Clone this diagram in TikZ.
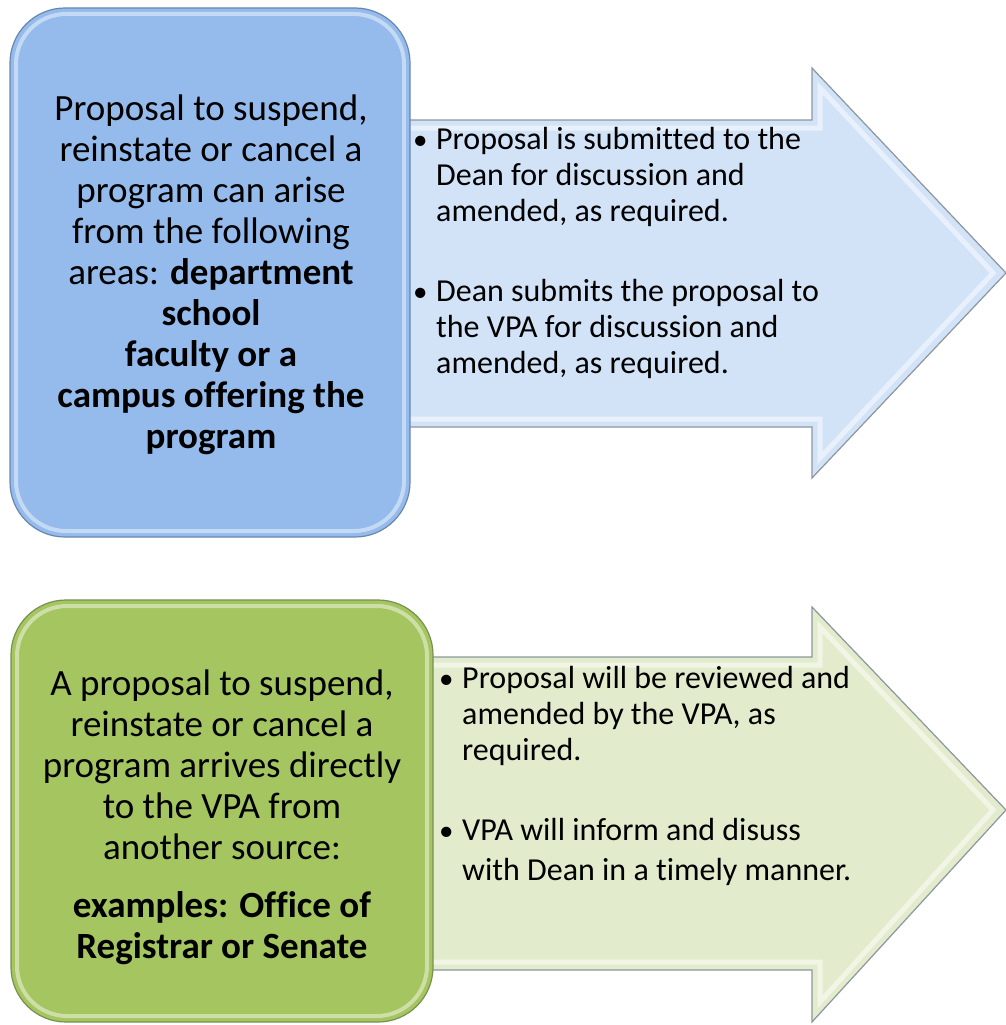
\documentclass[tikz,border=0pt]{standalone}
\usepackage{fontspec}
\setmainfont{Carlito}[Ligatures=NoCommon]
\definecolor{boxblue}{RGB}{148,187,236}
\definecolor{boxblueedge}{RGB}{105,135,175}
\definecolor{arrblue}{RGB}{210,227,247}
\definecolor{boxgreen}{RGB}{164,197,96}
\definecolor{boxgreenedge}{RGB}{120,145,80}
\definecolor{arrgreen}{RGB}{226,236,204}
\definecolor{arredge}{RGB}{140,150,160}
\newcommand{\smallbul}{\hspace*{-3pt}{\fontsize{29}{36}\selectfont\textbullet}}
\tikzset{
  leftbox/.style={rounded corners=55pt, line width=1.2pt},
  bevel/.style={rounded corners=50pt, draw=white, draw opacity=0.45, line width=4pt},
  arrowshape/.style={draw=arredge, line width=1.2pt, line join=miter},
  arrbevel/.style={draw=white, draw opacity=0.5, line width=5pt, line join=miter},
  bigtext/.style={align=center, font=\fontsize{37}{41}\selectfont, inner sep=0pt},
  bullettext/.style={anchor=west, font=\fontsize{32}{36}\selectfont, inner sep=0pt}
}
\begin{document}
\begin{tikzpicture}[x=1pt,y=-1pt]
\useasboundingbox (0,0) rectangle (1006,1025);

% ---------- top arrow ----------
\fill[arrblue] (400,120) -- (812,120) -- (812,68) -- (1006,273) -- (812,478) -- (812,427) -- (400,427) -- cycle;
\draw[arrbevel] (400,128) -- (820,128) -- (820,88) -- (993,273) -- (820,458) -- (820,419) -- (400,419);
\draw[arrowshape] (400,120) -- (812,120) -- (812,68) -- (1006,273) -- (812,478) -- (812,427) -- (400,427);

% ---------- top box ----------
\filldraw[leftbox, fill=boxblue, draw=boxblueedge] (10,8) rectangle (410,537);
\draw[bevel] (16,14) rectangle (404,531);

\node[bigtext] (toptext) at (211,275) {Proposal to suspend,\\ reinstate or cancel a\\ program can arise\\ from the following\\ areas: \textbf{department}\\ \textbf{school}\\ \textbf{faculty or a}\\ \textbf{campus offering the}\\ \textbf{program}};

\node[bullettext] (topb1) at (416,178) {\begin{tabular}{@{}p{20pt}@{}l@{}}\smallbul & Proposal is submitted to the\\ & Dean for discussion and\\ & amended, as required.\end{tabular}};
\node[bullettext] (topb2) at (416,330) {\begin{tabular}{@{}p{20pt}@{}l@{}}\smallbul & Dean submits the proposal to\\ & the VPA for discussion and\\ & amended, as required.\end{tabular}};

% ---------- bottom arrow ----------
\fill[arrgreen] (420,657) -- (812,657) -- (812,607) -- (1006,810) -- (812,1022) -- (812,970) -- (420,970) -- cycle;
\draw[arrbevel] (420,665) -- (820,665) -- (820,627) -- (993,810) -- (820,1002) -- (820,962) -- (420,962);
\draw[arrowshape] (420,657) -- (812,657) -- (812,607) -- (1006,810) -- (812,1022) -- (812,970) -- (420,970);

% ---------- bottom box ----------
\filldraw[leftbox, fill=boxgreen, draw=boxgreenedge] (11,600) rectangle (433,1022);
\draw[bevel] (17,606) rectangle (427,1016);

\node[bigtext] (bottext) at (222,817) {A proposal to suspend,\\ reinstate or cancel a\\ program arrives directly\\ to the VPA from\\ another source:\\[17pt] \textbf{examples: Office of}\\ \textbf{Registrar or Senate}};

\node[bullettext] (botb1) at (442,717) {\begin{tabular}{@{}p{20pt}@{}l@{}}\smallbul & Proposal will be reviewed and\\ & amended by the VPA, as\\ & required.\end{tabular}};
\node[bullettext] (botb2) at (442,853) {\begin{tabular}{@{}p{20pt}@{}l@{}}\smallbul & VPA will inform and disuss\\[4pt] & with Dean in a timely manner.\end{tabular}};
\end{tikzpicture}
\end{document}
